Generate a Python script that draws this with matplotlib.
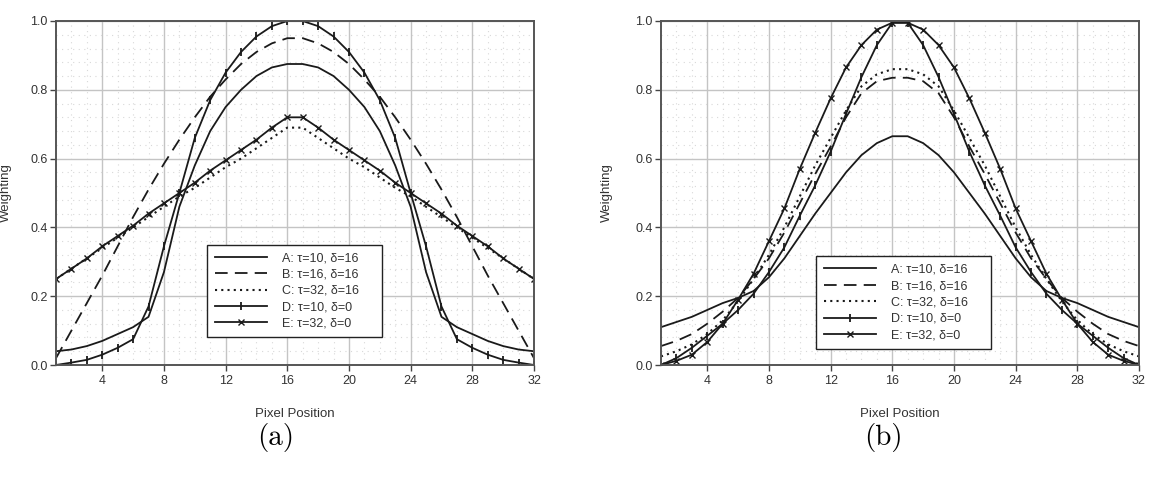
import numpy as np
import matplotlib
matplotlib.use("Agg")
import matplotlib.pyplot as plt
from matplotlib.ticker import MultipleLocator

pos = np.arange(1, 33)

labels = ["A: \u03c4=10, \u03b4=16", "B: \u03c4=16, \u03b4=16", "C: \u03c4=32, \u03b4=16",
          "D: \u03c4=10, \u03b4=0", "E: \u03c4=32, \u03b4=0"]

# panel (a)
a_A = [0.04, 0.045, 0.055, 0.07, 0.09, 0.11, 0.14, 0.27, 0.46, 0.58, 0.68, 0.75, 0.80, 0.84, 0.865, 0.875,
       0.875, 0.865, 0.84, 0.80, 0.75, 0.68, 0.58, 0.46, 0.27, 0.14, 0.11, 0.09, 0.07, 0.055, 0.045, 0.04]
a_B = [0.02, 0.10, 0.18, 0.26, 0.345, 0.43, 0.51, 0.585, 0.655, 0.72, 0.78, 0.83, 0.875, 0.91, 0.935, 0.95,
       0.95, 0.935, 0.91, 0.875, 0.83, 0.78, 0.72, 0.655, 0.585, 0.51, 0.43, 0.345, 0.26, 0.18, 0.10, 0.02]
a_C = [0.25, 0.28, 0.31, 0.34, 0.37, 0.40, 0.43, 0.46, 0.49, 0.515, 0.545, 0.575, 0.60, 0.63, 0.66, 0.69,
       0.69, 0.66, 0.63, 0.60, 0.575, 0.545, 0.515, 0.49, 0.46, 0.43, 0.40, 0.37, 0.34, 0.31, 0.28, 0.25]
a_D = [0.0, 0.007, 0.015, 0.03, 0.05, 0.075, 0.17, 0.345, 0.5, 0.66, 0.77, 0.85, 0.91, 0.955, 0.985, 1.0,
       1.0, 0.985, 0.955, 0.91, 0.85, 0.77, 0.66, 0.5, 0.345, 0.17, 0.075, 0.05, 0.03, 0.015, 0.007, 0.0]
a_E = [0.25, 0.28, 0.31, 0.345, 0.375, 0.405, 0.44, 0.47, 0.50, 0.53, 0.565, 0.595, 0.625, 0.655, 0.69, 0.72,
       0.72, 0.69, 0.655, 0.625, 0.595, 0.565, 0.53, 0.50, 0.47, 0.44, 0.405, 0.375, 0.345, 0.31, 0.28, 0.25]

# panel (b)
b_A = [0.11, 0.125, 0.14, 0.16, 0.18, 0.195, 0.215, 0.255, 0.31, 0.375, 0.44, 0.50, 0.56, 0.61, 0.645, 0.665,
       0.665, 0.645, 0.61, 0.56, 0.50, 0.44, 0.375, 0.31, 0.255, 0.215, 0.195, 0.18, 0.16, 0.14, 0.125, 0.11]
b_B = [0.055, 0.07, 0.09, 0.12, 0.155, 0.195, 0.25, 0.31, 0.385, 0.47, 0.555, 0.635, 0.72, 0.79, 0.825, 0.835,
       0.835, 0.825, 0.79, 0.72, 0.635, 0.555, 0.47, 0.385, 0.31, 0.25, 0.195, 0.155, 0.12, 0.09, 0.07, 0.055]
b_C = [0.025, 0.04, 0.06, 0.09, 0.13, 0.185, 0.25, 0.32, 0.40, 0.49, 0.58, 0.66, 0.74, 0.81, 0.845, 0.86,
       0.86, 0.845, 0.81, 0.74, 0.66, 0.58, 0.49, 0.40, 0.32, 0.25, 0.185, 0.13, 0.09, 0.06, 0.04, 0.025]
b_D = [0.0, 0.02, 0.05, 0.085, 0.12, 0.16, 0.207, 0.27, 0.342, 0.434, 0.522, 0.62, 0.73, 0.837, 0.93, 0.995,
       0.995, 0.93, 0.837, 0.73, 0.62, 0.522, 0.434, 0.342, 0.27, 0.207, 0.16, 0.12, 0.085, 0.05, 0.02, 0.0]
b_E = [0.0, 0.012, 0.03, 0.067, 0.12, 0.19, 0.265, 0.36, 0.455, 0.57, 0.675, 0.775, 0.865, 0.93, 0.975, 0.995,
       0.995, 0.975, 0.93, 0.865, 0.775, 0.675, 0.57, 0.455, 0.36, 0.265, 0.19, 0.12, 0.067, 0.03, 0.012, 0.0]

plt.rcParams['font.family'] = ['Liberation Sans', 'DejaVu Sans']

fig = plt.figure(figsize=(11.55, 4.78), dpi=100)
ax1 = fig.add_axes([56 / 1155, 1 - 365 / 478, 478 / 1155, 344 / 478])
ax2 = fig.add_axes([661 / 1155, 1 - 365 / 478, 478 / 1155, 344 / 478])

col = '#1a1a1a'


def draw(ax, A, B, C, D, E, legbox, ylab_x):
    ax.plot(pos, A, '-', color=col, lw=1.3, label=labels[0])
    ax.plot(pos, B, color=col, lw=1.3, dashes=(7, 4), label=labels[1])
    ax.plot(pos, C, color=col, lw=1.5, linestyle=(0, (1, 2)), label=labels[2])
    ax.plot(pos, D, '-', color=col, lw=1.3, marker='|', ms=6, mew=1.3, label=labels[3])
    ax.plot(pos, E, '-', color=col, lw=1.3, marker='x', ms=5, mew=1.0, label=labels[4])

    ax.set_xlim(1, 32)
    ax.set_ylim(0, 1)
    ax.xaxis.set_major_locator(MultipleLocator(4))
    ax.xaxis.set_minor_locator(MultipleLocator(1))
    ax.yaxis.set_major_locator(MultipleLocator(0.2))
    ax.yaxis.set_minor_locator(MultipleLocator(0.04))
    ax.yaxis.set_major_formatter(plt.FormatStrFormatter('%.1f'))
    ax.grid(which='major', color='#c4c4c4', lw=1.0)
    ax.grid(which='minor', color='#d8d8d8', lw=0.8, linestyle=(0, (1, 4)))
    ax.set_axisbelow(True)
    ax.tick_params(which='minor', length=0)
    ax.tick_params(which='major', length=4, width=1.0, color='#444444',
                   labelsize=9, labelcolor='#333333', direction='out')
    ax.tick_params(axis='y', length=4, pad=2)
    for s in ax.spines.values():
        s.set_color('#555555')
        s.set_linewidth(1.4)

    ax.set_xlabel('Pixel Position', fontsize=9.5, color='#333333')
    ax.xaxis.set_label_coords(0.5, -0.125)
    ax.set_ylabel('Weighting', fontsize=9.5, color='#333333')
    ax.yaxis.set_label_coords(ylab_x, 0.5)

    leg = ax.legend(loc='lower left', bbox_to_anchor=legbox, mode='expand',
                    fontsize=9, frameon=True, fancybox=False, handlelength=4.2,
                    handletextpad=1.2, borderpad=0.6, labelspacing=0.35,
                    borderaxespad=0)
    leg.get_frame().set_edgecolor('#222222')
    leg.get_frame().set_linewidth(1.0)
    leg.get_frame().set_alpha(1)
    for t in leg.get_texts():
        t.set_color('#333333')


draw(ax1, a_A, a_B, a_C, a_D, a_E, (151 / 478, 0.081, 175 / 478, 0.314), -0.092)
draw(ax2, b_A, b_B, b_C, b_D, b_E, (155 / 478, 0.047, 175 / 478, 0.296), -0.10)

fig.text(276 / 1155, 1 - 438 / 478, '(a)', fontsize=21, family='cmr10', ha='center', va='center')
fig.text(883 / 1155, 1 - 438 / 478, '(b)', fontsize=21, family='cmr10', ha='center', va='center')

fig.savefig('out.png', dpi=100)
